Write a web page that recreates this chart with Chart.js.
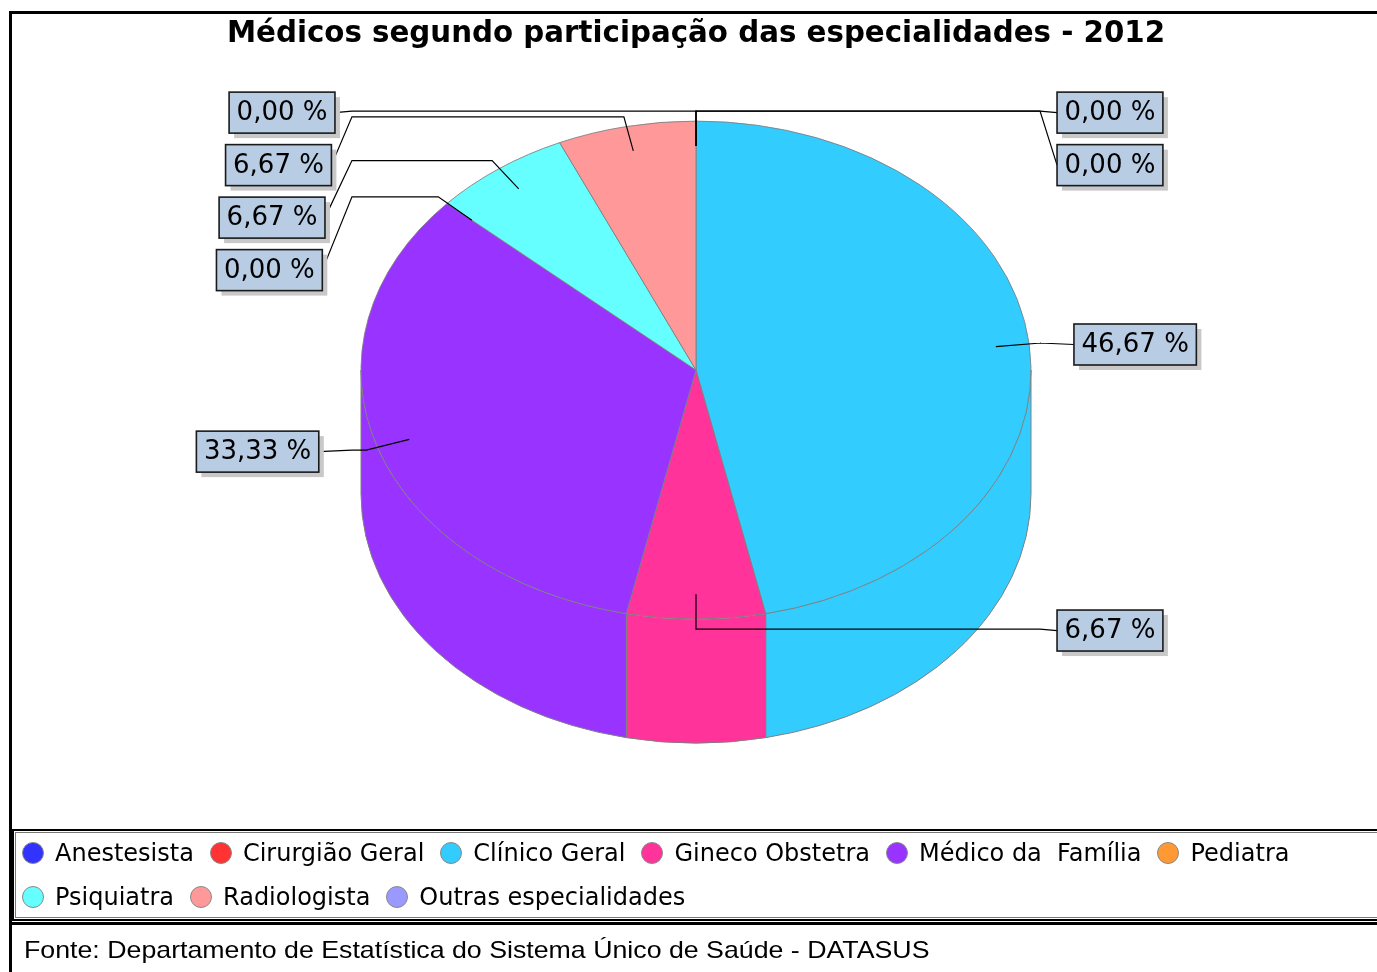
<!DOCTYPE html>
<html>
<head>
<meta charset="utf-8">
<script src="https://cdn.jsdelivr.net/npm/chart.js@4.4.1/dist/chart.umd.min.js"></script>
<style>
html,body{margin:0;padding:0;background:#fff;width:1377px;height:972px;overflow:hidden;}
#wrap{position:relative;width:1377px;height:972px;overflow:hidden;}
#c{position:absolute;left:0;top:0;}
#frame{position:absolute;left:9px;top:11px;width:1400px;height:1000px;border-left:3px solid #000;border-top:3px solid #000;}
#legendBox{position:absolute;left:12px;top:829px;width:1400px;height:88px;border:2px solid #000;border-right:none;}
#legendInner{position:absolute;left:1px;top:1px;right:0;bottom:1px;border:1px solid #777;border-right:none;}
#legend{position:absolute;left:22px;top:831px;width:1350px;display:flex;flex-wrap:wrap;font:24px 'DejaVu Sans',sans-serif;color:#000;}
.item{display:flex;align-items:center;height:44px;margin-right:16px;white-space:pre;}
.dot{width:22px;height:22px;border-radius:50%;box-sizing:border-box;border:1px solid #888;margin-right:11px;flex:none;}
#sep{position:absolute;left:9px;top:922px;width:1400px;height:0;border-top:3px solid #000;}
#fonte{position:absolute;left:24px;top:936px;font:24px 'Liberation Sans',Arial,sans-serif;line-height:28px;color:#000;white-space:pre;transform:scaleX(1.114);transform-origin:0 50%;}
</style>
</head>
<body>
<div id="wrap">
  <canvas id="c" width="1377" height="972"></canvas>
  <div id="frame"></div>
  <div id="legendBox"><div id="legendInner"></div></div>
  <div id="legend"></div>
  <div id="sep"></div>
  <div id="fonte"></div>
</div>
<script>
const TITLE = 'Médicos segundo participação das especialidades - 2012';
const SOURCE = 'Fonte: Departamento de Estatística do Sistema Único de Saúde - DATASUS';
const CATEGORIES = ['Anestesista', 'Cirurgião Geral', 'Clínico Geral', 'Gineco Obstetra', 'Médico da  Família', 'Pediatra', 'Psiquiatra', 'Radiologista', 'Outras especialidades'];
const PERCENTS = [0.00, 0.00, 46.67, 6.67, 33.33, 0.00, 6.67, 6.67, 0.00];
const COLORS = ['#3333FF', '#FF3333', '#33CCFF', '#FF3399', '#9933FF', '#FF9933', '#66FFFF', '#FF9999', '#9999FF'];

function fmt(v) { return v.toFixed(2).replace('.', ',') + ' %'; }

const pie3d = {
  id: 'pie3d',
  beforeDatasetsDraw(chart, args, opts) {
    const meta = chart.getDatasetMeta(0);
    const arcs = meta.data;
    const a0 = arcs[0];
    const x = a0.x, y = a0.y, R = a0.outerRadius;
    const ca = chart.chartArea;
    const k = opts.tilt, D = opts.depth;
    const cy = (ca.top + ca.bottom) / 2 - D / 2;
    const ctx = chart.ctx;
    chart.$pie3d = {cx: x, cy, R, k, D};
    ctx.save();
    arcs.forEach(el => {
      const a = Math.max(el.startAngle, 0), b = Math.min(el.endAngle, Math.PI);
      if (b <= a) return;
      ctx.beginPath();
      ctx.ellipse(x, cy, R, R * k, 0, a, b, false);
      ctx.lineTo(x + R * Math.cos(b), cy + D + R * k * Math.sin(b));
      ctx.ellipse(x, cy + D, R, R * k, 0, b, a, true);
      ctx.closePath();
      ctx.fillStyle = el.options.backgroundColor;
      ctx.fill();
      ctx.strokeStyle = opts.edgeColor;
      ctx.lineWidth = 1;
      ctx.stroke();
    });
    ctx.restore();
    ctx.save();
    ctx.translate(0, cy);
    ctx.scale(1, k);
    ctx.translate(0, -y);
  },
  afterDatasetsDraw(chart, args, opts) {
    const ctx = chart.ctx;
    ctx.restore();
    const {cx, cy, R, k} = chart.$pie3d;
    const arcs = chart.getDatasetMeta(0).data;
    const values = chart.data.datasets[0].data;
    ctx.save();
    ctx.font = opts.labelFont;
    const recs = arcs.map((el, i) => {
      const mid = (el.startAngle + el.endAngle) / 2;
      const frac = (mid + Math.PI / 2) / (2 * Math.PI);
      const right = frac <= 0.5 + 1e-6;
      const c = Math.cos(mid), s = Math.sin(mid);
      return {
        i, right,
        ax: cx + 0.9 * R * c, ay: cy + 0.9 * R * k * s,
        ex: cx + 1.035 * R * c, ey: cy + 1.04 * R * k * s,
        stemX: cx + (right ? 1 : -1) * 1.027 * R,
        gap: 17 + 17 * Math.abs(c),
        text: fmt(values[i])
      };
    });
    [true, false].forEach(side => {
      const list = recs.filter(r => r.right === side).sort((p, q) => p.ey - q.ey || p.i - q.i);
      let last = -Infinity;
      list.forEach(r => { r.ly = Math.max(r.ey, last + opts.labelSpacing); last = r.ly; });
      list.forEach(r => { r.ly += 1.5; });
    });
    const H = 41, PAD = 7.5;
    recs.forEach(r => {
      const tw = ctx.measureText(r.text).width;
      r.w = tw + 2 * PAD;
      r.bx = r.right ? r.stemX + r.gap : r.stemX - r.gap - r.w;
      r.by = r.ly - H / 2;
    });
    ctx.strokeStyle = '#000';
    ctx.lineWidth = 1.2;
    recs.forEach(r => {
      ctx.beginPath();
      ctx.moveTo(r.ax, r.ay);
      ctx.lineTo(r.ex, r.ey);
      ctx.lineTo(r.stemX, r.ey);
      ctx.lineTo(r.right ? r.bx : r.bx + r.w, r.ly);
      ctx.stroke();
    });
    recs.forEach(r => {
      ctx.fillStyle = '#C8C8C8';
      ctx.fillRect(r.bx + 5, r.by + 5, r.w, H);
      ctx.fillStyle = '#B8CCE4';
      ctx.fillRect(r.bx, r.by, r.w, H);
      ctx.strokeStyle = '#1a1a1a';
      ctx.lineWidth = 1.6;
      ctx.strokeRect(r.bx, r.by, r.w, H);
      ctx.fillStyle = '#000';
      ctx.textAlign = 'center';
      ctx.textBaseline = 'middle';
      ctx.fillText(r.text, r.bx + r.w / 2, r.ly + 1);
    });
    ctx.restore();
  }
};

const chart = new Chart(document.getElementById('c'), {
  type: 'pie',
  data: {
    labels: CATEGORIES,
    datasets: [{
      data: PERCENTS,
      backgroundColor: COLORS,
      borderColor: '#808080',
      borderWidth: 1,
      radius: 335,
      clip: false
    }]
  },
  options: {
    responsive: false,
    devicePixelRatio: 1,
    animation: false,
    events: [],
    layout: {padding: {top: 12, left: 15, right: 0, bottom: 168}},
    plugins: {
      legend: {display: false},
      tooltip: {enabled: false},
      title: {
        display: true,
        text: TITLE,
        color: '#000',
        font: {family: "'DejaVu Sans', sans-serif", size: 29.3, weight: 'bold', lineHeight: 1.2},
        padding: {top: 5, bottom: 8}
      },
      pie3d: {tilt: 249 / 335, depth: 124, edgeColor: '#808080', labelFont: "26px 'DejaVu Sans', sans-serif", labelSpacing: 52.5}
    }
  },
  plugins: [pie3d]
});

const legendEl = document.getElementById('legend');
const items = Chart.overrides.pie.plugins.legend.labels.generateLabels(chart);
items.forEach(it => {
  const d = document.createElement('div');
  d.className = 'item';
  const dot = document.createElement('span');
  dot.className = 'dot';
  dot.style.background = it.fillStyle;
  const t = document.createElement('span');
  t.textContent = it.text;
  d.appendChild(dot);
  d.appendChild(t);
  legendEl.appendChild(d);
});
document.getElementById('fonte').textContent = SOURCE;
</script>
</body>
</html>
